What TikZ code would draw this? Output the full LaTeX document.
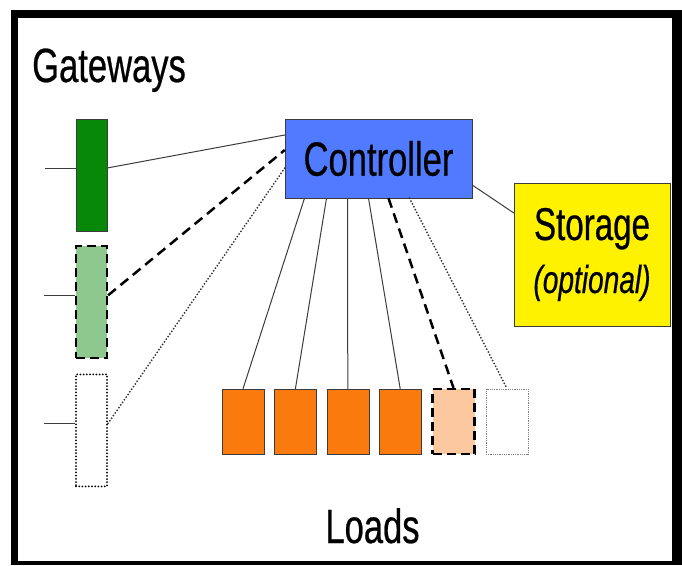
\documentclass[tikz,border=0pt]{standalone}
\usepackage{fontspec}
\setmainfont[FakeStretch=0.72, FakeBold=0.5]{Liberation Sans}
\usetikzlibrary{positioning}

\definecolor{gwgreen}{RGB}{8,136,8}
\definecolor{gwlight}{RGB}{142,200,142}
\definecolor{ctrlblue}{RGB}{80,122,255}
\definecolor{loadorange}{RGB}{250,122,14}
\definecolor{loadlight}{RGB}{251,200,160}
\definecolor{edgegray}{RGB}{60,60,60}

\tikzstyle{gateway} = [rectangle, draw=edgegray, fill=gwgreen,
    minimum width=31pt, minimum height=112pt, inner sep=0pt]
\tikzstyle{load} = [rectangle, draw=edgegray, fill=loadorange,
    minimum width=42pt, minimum height=65pt, inner sep=0pt]
\tikzstyle{ctrl} = [rectangle, draw=edgegray, fill=ctrlblue,
    minimum width=187pt, minimum height=79pt, inner sep=0pt,
    font=\fontsize{48}{56}\selectfont]
\tikzstyle{store} = [rectangle, draw=edgegray, fill=yellow,
    minimum width=156pt, minimum height=143pt, inner sep=0pt,
    align=center, font=\fontsize{46}{55}\selectfont]
\tikzstyle{heading} = [inner sep=0pt, font=\fontsize{48}{56}\selectfont]
\tikzstyle{dashbox} = [draw=black, line width=2.2pt, dash pattern=on 9pt off 5pt]
\tikzstyle{dotbox} = [draw=black, line width=2pt, line cap=round,
    dash pattern=on 0pt off 3.2pt]
\tikzstyle{line} = [draw, edgegray, line width=1pt]
\tikzstyle{dashline} = [draw, black, line width=2.5pt, dash pattern=on 10pt off 6pt]
\tikzstyle{dotline} = [draw, black!80, line width=2pt, line cap=round,
    dash pattern=on 0pt off 3.2pt]

\begin{document}
\begin{tikzpicture}[x=1pt, y=-1pt, node distance=10pt]
    \useasboundingbox (0,0) rectangle (682,565);
    % frame
    \fill [black] (11,10) rectangle (682,565);
    \fill [white] (18,18) rectangle (672,561);
    % Place nodes
    \node [heading, anchor=base west] (gwtitle) at (32,82) {Gateways};
    \node [gateway] (gw1) at (91.5,175) {};
    \node [gateway, fill=gwlight, dashbox, below=14pt of gw1] (gw2) {};
    \node [gateway, fill=white, dotbox, below=14pt of gw2] (gw3) {};
    \node [ctrl] (ctrl) at (378.5,158.5) {Controller};
    \node [store] (store) at (592,254.5)
        {Storage\\[-2pt]{\fontsize{39}{46}\selectfont\itshape (optional)}};
    \node [load] (l1) at (243,421.5) {};
    \foreach \i/\j in {2/1,3/2,4/3}
        \node [load, right=of l\j] (l\i) {};
    \node [load, fill=loadlight, dashbox, right=of l4] (l5) {};
    \node [load, fill=white, draw=gray, line width=0.8pt, densely dotted, right=of l5] (l6) {};
    \node [heading, anchor=base] (ldtitle) at (372.5,543) {Loads};
    % Draw edges
    \foreach \g in {1,2,3} {
        \coordinate (stub\g) at ([xshift=-31pt,yshift=7pt]gw\g.west);
        \path [line] (stub\g) -- ([yshift=7pt]gw\g.west);
    }
    \path [line] ([yshift=7pt]gw1.east) -- ([yshift=23.5pt]ctrl.west);
    \path [dashline] ([yshift=7pt]gw2.east) -- ([yshift=8.5pt]ctrl.west);
    \path [dotline] ([yshift=7pt]gw3.east) -- ([yshift=-9.5pt]ctrl.west);
    \foreach \i/\dx in {1/-74,2/-52,3/-31,4/-10}
        \path [line] ([xshift=\dx pt]ctrl.south) -- (l\i.north);
    \path [dashline] ([xshift=10pt]ctrl.south) -- (l5.north);
    \path [dotline] ([xshift=31pt]ctrl.south) -- (l6.north);
    \path [line] ([yshift=-26.5pt]ctrl.east) -- ([yshift=41.5pt]store.west);
\end{tikzpicture}
\end{document}
